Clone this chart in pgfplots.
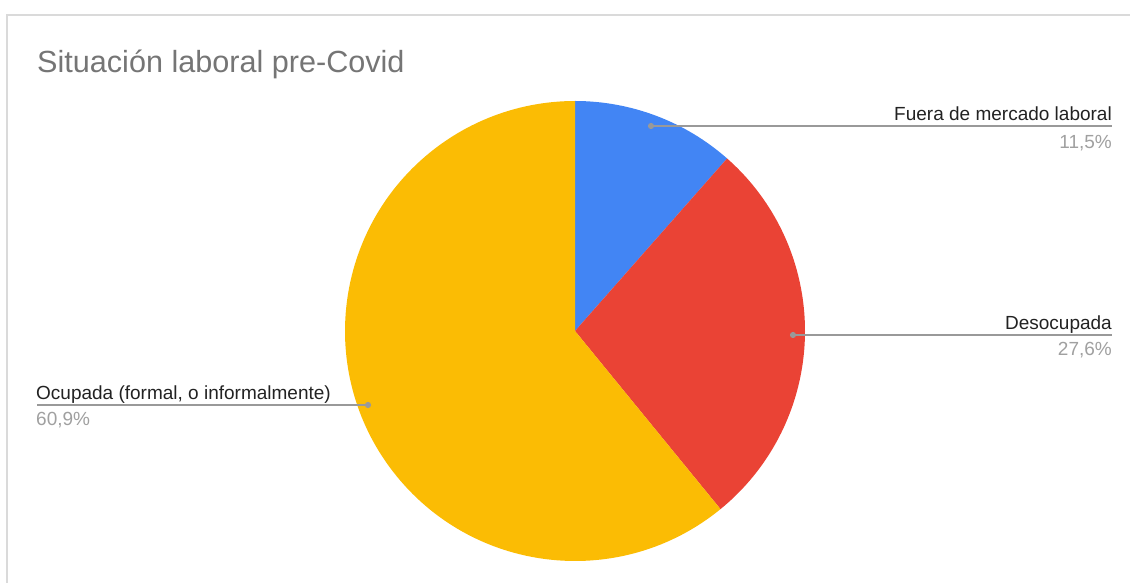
\documentclass[border=0pt]{standalone}
\usepackage{pgfplots}
\usepackage{pgfplotstable}
\pgfplotsset{compat=1.18}
\usepackage{fontspec}
\setmainfont{Liberation Sans}
\definecolor{pieblue}{HTML}{4285F4}
\definecolor{piered}{HTML}{EA4335}
\definecolor{pieyellow}{HTML}{FBBC04}
\definecolor{titlegray}{HTML}{757575}
\definecolor{labeldark}{HTML}{222222}
\definecolor{pctgray}{HTML}{A0A0A0}
\definecolor{leadgray}{HTML}{999999}
\definecolor{framegray}{HTML}{DADADA}
\pgfplotstableread{
label value
Fuera 11.5
Desocupada 27.6
Ocupada 60.9
}\piedata
\pgfplotstablegetelem{0}{value}\of\piedata \let\vA\pgfplotsretval
\pgfplotstablegetelem{1}{value}\of\piedata \let\vB\pgfplotsretval
\pgfplotstablegetelem{2}{value}\of\piedata \let\vC\pgfplotsretval
\pgfmathsetmacro{\aA}{90-3.6*\vA}
\pgfmathsetmacro{\aB}{\aA-3.6*\vB}
\pgfmathsetmacro{\aC}{\aB-3.6*\vC}
\begin{document}%
\begin{tikzpicture}
\begin{axis}[
  scale only axis, width=1130pt, height=583pt,
  xmin=0, xmax=1130, ymin=0, ymax=583,
  hide axis, clip=false,
]
% canvas extent
\coordinate (bl) at (axis cs:0,0);
\coordinate (tr) at (axis cs:1130,583);
% frame
\draw[framegray, line width=1.5pt] (axis cs:7,0) -- (axis cs:7,568) -- (axis cs:1130,568);
% pie slices
\fill[pieblue] (axis cs:575,252) -- +(90:230pt) arc[start angle=90, end angle=\aA, radius=230pt] -- cycle;
\fill[piered] (axis cs:575,252) -- +(\aA:230pt) arc[start angle=\aA, end angle=\aB, radius=230pt] -- cycle;
\fill[pieyellow] (axis cs:575,252) -- +(\aB:230pt) arc[start angle=\aB, end angle=\aC, radius=230pt] -- cycle;
% leader lines
\addplot[leadgray, line width=1.1pt, mark=*, mark size=2.5pt, mark indices={1}] coordinates {(651,457) (1112,457)};
\addplot[leadgray, line width=1.1pt, mark=*, mark size=2.5pt, mark indices={1}] coordinates {(793,248) (1112,248)};
\addplot[leadgray, line width=1.1pt, mark=*, mark size=2.5pt, mark indices={1}] coordinates {(368,178) (37,178)};
% texts
\node[anchor=base west, text=titlegray, font=\fontsize{30.6}{36}\selectfont, inner sep=0pt] at (axis cs:37,510) {Situación laboral pre-Covid};
\node[anchor=base east, text=labeldark, font=\fontsize{19}{23}\selectfont, inner sep=0pt] at (axis cs:1112,462) {Fuera de mercado laboral};
\node[anchor=base east, text=pctgray, font=\fontsize{19}{23}\selectfont, inner sep=0pt] at (axis cs:1112,434) {11,5\%};
\node[anchor=base east, text=labeldark, font=\fontsize{19}{23}\selectfont, inner sep=0pt] at (axis cs:1112,253) {Desocupada};
\node[anchor=base east, text=pctgray, font=\fontsize{19}{23}\selectfont, inner sep=0pt] at (axis cs:1112,227) {27,6\%};
\node[anchor=base west, text=labeldark, font=\fontsize{19}{23}\selectfont, inner sep=0pt] at (axis cs:36,183) {Ocupada (formal, o informalmente)};
\node[anchor=base west, text=pctgray, font=\fontsize{19}{23}\selectfont, inner sep=0pt] at (axis cs:36,157) {60,9\%};
\end{axis}
\pgfresetboundingbox
\path (bl) rectangle (tr);
\end{tikzpicture}%
\end{document}
